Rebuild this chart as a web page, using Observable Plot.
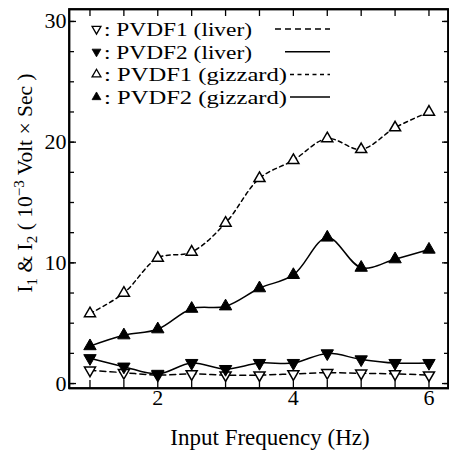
<!DOCTYPE html>
<html><head><meta charset="utf-8">
<script src="https://cdn.jsdelivr.net/npm/d3@7"></script>
<script src="https://cdn.jsdelivr.net/npm/@observablehq/plot@0.6"></script>
<style>body{margin:0;background:#fff}</style>
</head><body><div id="chart"></div>
<script>
const freq = [1, 1.5, 2, 2.5, 3, 3.5, 4, 4.5, 5, 5.5, 6];
const pvdf1Liver   = [1.1, 0.9, 0.7, 0.8, 0.7, 0.7, 0.8, 0.9, 0.85, 0.8, 0.7];
const pvdf2Liver   = [2.1, 1.4, 0.8, 1.7, 1.2, 1.7, 1.7, 2.5, 2.0, 1.7, 1.7];
const pvdf1Gizzard = [5.8, 7.5, 10.4, 10.9, 13.3, 17.0, 18.5, 20.3, 19.4, 21.2, 22.5];
const pvdf2Gizzard = [3.1, 4.0, 4.5, 6.2, 6.4, 7.9, 9.0, 12.1, 9.6, 10.3, 11.1];
const seriesNames = ["PVDF1 (liver)", "PVDF2 (liver)", "PVDF1 (gizzard)", "PVDF2 (gizzard)"];
const xMinorTicks = [1, 1.5, 2, 2.5, 3, 3.5, 4, 4.5, 5, 5.5, 6];
const xLabelTicks = [2, 4, 6];
const yMinorTicks = [0, 2.5, 5, 7.5, 10, 12.5, 15, 17.5, 20, 22.5, 25, 27.5, 30];
const yLabelTicks = [0, 10, 20, 30];
const xTitle = "Input Frequency (Hz)";

const seriesValues = [pvdf1Liver, pvdf2Liver, pvdf1Gizzard, pvdf2Gizzard];
const styles = [
  {filled: false, down: true,  dash: "6,4"},
  {filled: true,  down: true,  dash: null},
  {filled: false, down: false, dash: "4,3.5"},
  {filled: true,  down: false, dash: null}
];
const rows = [];
seriesNames.forEach((name, i) => freq.forEach((f, j) => rows.push({series: name, idx: i, f, v: seriesValues[i][j]})));

const font = "'Liberation Serif', 'Times New Roman', serif";
const marks = [];
seriesNames.forEach((name, i) => {
  const d = rows.filter(r => r.idx === i);
  const s = styles[i];
  marks.push(Plot.line(d, {x: "f", y: "v", stroke: "black", strokeWidth: 1.5, strokeDasharray: s.dash, curve: "catmull-rom"}));
});
seriesNames.forEach((name, i) => {
  const d = rows.filter(r => r.idx === i);
  const s = styles[i];
  marks.push(Plot.dot(d, {x: "f", y: "v", symbol: "triangle", rotate: s.down ? 180 : 0,
    r: s.filled ? 4.6 : 4.1, fill: s.filled ? "black" : "white", stroke: "black", strokeWidth: s.filled ? 1 : 1.5}));
});

const plot = Plot.plot({
  width: 449, height: 450,
  marginLeft: 69, marginRight: 1, marginTop: 9, marginBottom: 62,
  x: {domain: [0.698, 6.288]},
  y: {domain: [-0.41, 30.99]},
  style: {fontFamily: font, fontSize: "22px", color: "black", background: "white"},
  marks: [
    Plot.axisX(xMinorTicks, {anchor: "bottom", tickSize: -8, tickFormat: () => "", label: null, strokeWidth: 1.3}),
    Plot.axisX(xLabelTicks, {anchor: "bottom", tickSize: 0, tickPadding: 1, label: null}),
    Plot.axisX(xMinorTicks, {anchor: "top", tickSize: -6, tickFormat: () => "", label: null, strokeWidth: 1.3}),
    Plot.axisY(yMinorTicks, {anchor: "left", tickSize: -5, tickFormat: () => "", label: null, strokeWidth: 1.3}),
    Plot.axisY(yLabelTicks, {anchor: "left", tickSize: -7, tickFormat: () => "", label: null, strokeWidth: 1.3}),
    Plot.axisY(yLabelTicks, {anchor: "left", tickSize: 0, tickPadding: 3, label: null}),
    Plot.axisY(yMinorTicks, {anchor: "right", tickSize: -5, tickFormat: () => "", label: null, strokeWidth: 1.3}),
    Plot.axisY(yLabelTicks, {anchor: "right", tickSize: -7, tickFormat: () => "", label: null, strokeWidth: 1.3}),
    ...marks,
    Plot.frame({stroke: "black", strokeWidth: 1.8})
  ]
});
document.getElementById("chart").appendChild(plot);

const svg = d3.select(plot);
const xr = plot.scale("x").range, yr = plot.scale("y").range;
svg.append("rect").attr("x", Math.min(...xr)).attr("y", Math.min(...yr))
  .attr("width", Math.abs(xr[1] - xr[0])).attr("height", Math.abs(yr[1] - yr[0]))
  .attr("fill", "none").attr("stroke", "black").attr("stroke-width", 1.8);
// x title
svg.append("text").attr("x", 270).attr("y", 445).attr("text-anchor", "middle")
  .attr("font-family", font).attr("font-size", 23).attr("fill", "black").text(xTitle);
// y title
const yl = svg.append("text").attr("transform", "translate(32,183) rotate(-90)")
  .attr("text-anchor", "middle").attr("font-family", font).attr("font-size", 21.5).attr("fill", "black");
yl.append("tspan").text("I");
yl.append("tspan").attr("dy", 5).attr("font-size", 15).text("1");
yl.append("tspan").attr("dy", -5).text(" & I");
yl.append("tspan").attr("dy", 5).attr("font-size", 15).text("2");
yl.append("tspan").attr("dy", -5).text(" ( 10");
yl.append("tspan").attr("dy", -8).attr("font-size", 15).text("\u22123");
yl.append("tspan").attr("dy", 8).text(" Volt \u00d7 Sec )");

// legend
const lg = svg.append("g");
const lineStart = [275, 285, 290, 290];
const textEnd = [252, 252, 287, 287];
seriesNames.forEach((name, i) => {
  const cy = 29 + i * 22.7;
  const s = styles[i];
  lg.append("path").attr("d", d3.symbol(d3.symbolTriangle, 34)())
    .attr("transform", `translate(96.5,${cy}) rotate(${s.down ? 180 : 0})`)
    .attr("fill", s.filled ? "black" : "white").attr("stroke", "black").attr("stroke-width", s.filled ? 0.8 : 1.3);
  lg.append("text").attr("x", 104).attr("y", cy + 7).attr("text-anchor", "start")
    .attr("font-family", font).attr("font-size", 19.5)
    .attr("textLength", textEnd[i] - 104).attr("lengthAdjust", "spacingAndGlyphs")
    .attr("fill", "black").text(": " + name);
  lg.append("line").attr("x1", lineStart[i]).attr("x2", 330).attr("y1", cy).attr("y2", cy)
    .attr("stroke", "black").attr("stroke-width", 1.5).attr("stroke-dasharray", s.dash);
});
</script></body></html>
